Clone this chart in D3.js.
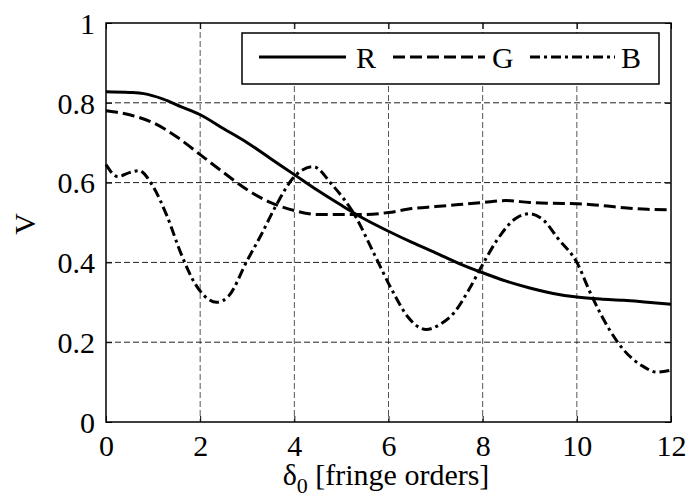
<html>
<meta charset="utf-8">
<style>
body { margin: 0; background: #fff; }
svg text { font-family: "Liberation Serif", "Times New Roman", Times, serif; fill: #000; }
</style>
<body>
<script src="https://cdn.jsdelivr.net/npm/d3@7"></script>
<script>

/* data */
var xR = [0, 0.5, 0.8, 1.2, 1.6, 2.0, 2.5, 3.0, 3.5, 4.0, 4.5, 5.0, 5.5, 6.0, 6.5, 7.0, 7.5, 8.0, 8.5, 9.0, 9.5, 10.0, 10.5, 11.0, 11.5, 12.0];
var vR = [0.828, 0.826, 0.823, 0.81, 0.79, 0.77, 0.735, 0.70, 0.66, 0.62, 0.58, 0.543, 0.508, 0.478, 0.45, 0.424, 0.397, 0.374, 0.353, 0.336, 0.322, 0.313, 0.308, 0.305, 0.30, 0.295];

var xG = [0, 0.5, 1.0, 1.5, 2.0, 2.5, 3.0, 3.5, 4.0, 4.5, 5.0, 5.5, 6.0, 6.5, 7.0, 7.5, 8.0, 8.5, 9.0, 9.5, 10.0, 10.5, 11.0, 11.5, 12.0];
var vG = [0.78, 0.77, 0.75, 0.715, 0.67, 0.625, 0.582, 0.55, 0.53, 0.52, 0.52, 0.52, 0.525, 0.535, 0.54, 0.545, 0.55, 0.555, 0.55, 0.548, 0.547, 0.543, 0.537, 0.533, 0.532];

var xB = [0, 0.25, 0.5, 0.7, 1.0, 1.3, 1.6, 1.9, 2.1, 2.35, 2.6, 3.0, 3.3, 3.6, 4.0, 4.4, 4.8, 5.3, 5.7, 6.1, 6.4, 6.8, 7.1, 7.4, 7.7, 8.0, 8.3, 8.7, 9.0, 9.3, 9.6, 10.0, 10.3, 10.7, 11.0, 11.4, 11.7, 12.0];
var vB = [0.645, 0.615, 0.625, 0.63, 0.59, 0.515, 0.42, 0.345, 0.315, 0.30, 0.315, 0.405, 0.47, 0.54, 0.615, 0.64, 0.595, 0.515, 0.42, 0.325, 0.265, 0.232, 0.245, 0.275, 0.33, 0.395, 0.455, 0.51, 0.522, 0.505, 0.46, 0.40, 0.32, 0.23, 0.18, 0.14, 0.125, 0.13];

var xTicks = [0, 2, 4, 6, 8, 10, 12];
var yTicks = [0, 0.2, 0.4, 0.6, 0.8, 1];
var names = ['R', 'G', 'B'];
var dashes = [null, '12,5', '10,4,3,4'];

/* layout (window.top is reserved, so plot_* names) */
var width = 689, height = 504,
    plot_l = 106, plot_r = 671, plot_t = 23, plot_b = 422,
    fsize = 30;

var svg = d3.select("body").append("svg")
    .attr("width", width)
    .attr("height", height);

var x = d3.scaleLinear().domain([0, 12]).range([plot_l, plot_r]);
var y = d3.scaleLinear().domain([0, 1]).range([plot_b, plot_t]);

// grid
var grid = svg.append("g").attr("stroke-width", 1).attr("stroke-dasharray", "6,3");
grid.selectAll(".gx").data(xTicks.slice(1, -1)).enter().append("line")
    .attr("stroke", "#555")
    .attr("x1", function(d){return x(d)}).attr("x2", function(d){return x(d)})
    .attr("y1", plot_t).attr("y2", plot_b);
grid.selectAll(".gy").data(yTicks.slice(1, -1)).enter().append("line")
    .attr("stroke", "#222")
    .attr("y1", function(d){return y(d)}).attr("y2", function(d){return y(d)})
    .attr("x1", plot_l).attr("x2", plot_r);

// axes, ticks pointing inward
var fmt = function(d){ return String(+d.toFixed(1)); };
function style_axis(g) {
    g.attr("font-size", fsize).attr("font-family", null);
    g.select(".domain").remove();
    g.selectAll(".tick line").attr("stroke", "#000").attr("stroke-width", 1);
}
svg.append("g").attr("transform", "translate(0," + plot_b + ")")
    .call(d3.axisBottom(x).tickValues(xTicks).tickSize(-6).tickPadding(13).tickFormat(fmt))
    .call(style_axis);
svg.append("g").attr("transform", "translate(" + plot_l + ",0)")
    .call(d3.axisLeft(y).tickValues(yTicks).tickSize(-6).tickPadding(11).tickFormat(fmt))
    .call(style_axis)
    .call(function(g){ g.selectAll("text").attr("dy", "0.34em"); });
svg.append("g").attr("transform", "translate(0," + plot_t + ")")
    .call(d3.axisTop(x).tickValues(xTicks).tickSize(-6).tickFormat(""))
    .call(style_axis);
svg.append("g").attr("transform", "translate(" + plot_r + ",0)")
    .call(d3.axisRight(y).tickValues(yTicks).tickSize(-6).tickFormat(""))
    .call(style_axis);

svg.append("rect")
    .attr("x", plot_l).attr("y", plot_t)
    .attr("width", plot_r - plot_l).attr("height", plot_b - plot_t)
    .attr("fill", "none").attr("stroke", "#000").attr("stroke-width", 1.5);

// curves
var series = [
    d3.zip(xR, vR),
    d3.zip(xG, vG),
    d3.zip(xB, vB)
];
var line = d3.line()
    .x(function(d){return x(d[0])})
    .y(function(d){return y(d[1])})
    .curve(d3.curveMonotoneX);

svg.selectAll(".curve").data(series).enter().append("path")
    .attr("class", "curve")
    .attr("d", line)
    .attr("fill", "none")
    .attr("stroke", "#000")
    .attr("stroke-width", 3)
    .attr("stroke-dasharray", function(d, i){return dashes[i]});

// legend
var leg = svg.append("g");
leg.append("rect")
    .attr("x", 242).attr("y", 33).attr("width", 417).attr("height", 51)
    .attr("fill", "#fff").attr("stroke", "#000").attr("stroke-width", 1.5);
var legX = [[259, 346, 356], [393, 485, 492], [530, 615, 621]];
names.forEach(function(n, i){
    leg.append("line")
        .attr("x1", legX[i][0]).attr("x2", legX[i][1])
        .attr("y1", 57).attr("y2", 57)
        .attr("stroke", "#000").attr("stroke-width", 3)
        .attr("stroke-dasharray", dashes[i]);
    leg.append("text")
        .attr("x", legX[i][2]).attr("y", 68)
        .attr("font-size", fsize)
        .text(n);
});

// axis titles
var xl = svg.append("text")
    .attr("x", 386).attr("y", 485)
    .attr("text-anchor", "middle")
    .attr("font-size", fsize);
xl.append("tspan").text("δ");
xl.append("tspan").attr("dy", 8).attr("font-size", 22).text("0");
xl.append("tspan").attr("dy", -8).text(" [fringe orders]");

svg.append("text")
    .attr("transform", "translate(35,224) rotate(-90)")
    .attr("text-anchor", "middle")
    .attr("font-size", fsize)
    .text("V");
</script>
</body>
</html>
